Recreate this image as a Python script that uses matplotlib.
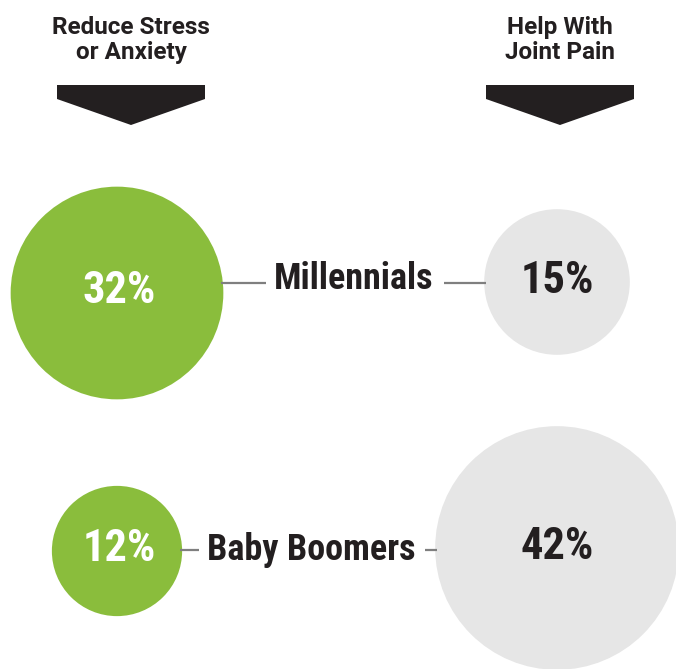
import numpy as np
import matplotlib
matplotlib.use("Agg")
import matplotlib.pyplot as plt
from matplotlib.patches import Circle, Polygon
from matplotlib import font_manager

# ---- data ----
headers = ["Reduce Stress\nor Anxiety", "Help With\nJoint Pain"]
groups = ["Millennials", "Baby Boomers"]
stress_pct = [32, 12]
joint_pct = [15, 42]

# ---- style ----
GREEN = "#8ABD3C"
GRAY = "#E6E6E6"
DARK = "#231F20"
LINE = "#7F7F7F"

avail = {f.name for f in font_manager.fontManager.ttflist}
FONT = "DejaVu Sans"
for cand in ["Roboto Condensed", "Liberation Sans Narrow", "DejaVu Sans Condensed", "Roboto"]:
    if cand in avail:
        FONT = cand
        break
HFONT = "Roboto" if "Roboto" in avail else "DejaVu Sans"

W, H = 676, 669
fig = plt.figure(figsize=(W / 100, H / 100), dpi=100)
ax = fig.add_axes([0, 0, 1, 1])
ax.set_xlim(0, W)
ax.set_ylim(H, 0)
ax.set_aspect("equal")
ax.axis("off")

k = 18.8  # radius scale: r = k*sqrt(value)
col_x = [117, 557]
left_cy = [293, 551]
right_cy = [282, 548]
label_cx = [354, 311]
label_cy = [279, 550]
line_y = [283, 550]

# headers with arrows
for hx, htxt in zip([131, 560], headers):
    ax.text(hx, 40, htxt, ha="center", va="center", fontsize=17.5, fontweight="bold",
            color=DARK, family=HFONT, linespacing=1.12)
    poly = Polygon([[hx - 74, 85], [hx + 74, 85], [hx + 74, 99], [hx, 125], [hx - 74, 99]],
                   closed=True, color=DARK, lw=0)
    ax.add_patch(poly)

fig.canvas.draw()
renderer = fig.canvas.get_renderer()
inv = ax.transData.inverted()

for i, g in enumerate(groups):
    rl = k * np.sqrt(stress_pct[i])
    rr = k * np.sqrt(joint_pct[i])
    ax.add_patch(Circle((col_x[0], left_cy[i]), rl, color=GREEN, lw=0))
    ax.add_patch(Circle((col_x[1], right_cy[i]), rr, color=GRAY, lw=0))
    ax.text(col_x[0] + 2, left_cy[i] - 2, f"{stress_pct[i]}%", ha="center", va="center",
            fontsize=32, fontweight="bold", color="white", family=FONT)
    ax.text(col_x[1], right_cy[i] - 1, f"{joint_pct[i]}%", ha="center", va="center",
            fontsize=32, fontweight="bold", color=DARK, family=FONT)
    t = ax.text(label_cx[i], label_cy[i], g, ha="center", va="center",
                fontsize=26, fontweight="bold", color=DARK, family=FONT)
    bb = t.get_window_extent(renderer=renderer)
    (x0, _), (x1, _) = inv.transform([[bb.x0, bb.y0], [bb.x1, bb.y1]])
    xa, xb = min(x0, x1), max(x0, x1)
    ax.plot([col_x[0] + rl - 2, xa - 8], [line_y[i], line_y[i]], color=LINE, lw=1.6,
            solid_capstyle="butt")
    ax.plot([xb + 10, col_x[1] - rr + 2], [line_y[i], line_y[i]], color=LINE, lw=1.6,
            solid_capstyle="butt")

fig.savefig("out.png", dpi=100, facecolor="white")
